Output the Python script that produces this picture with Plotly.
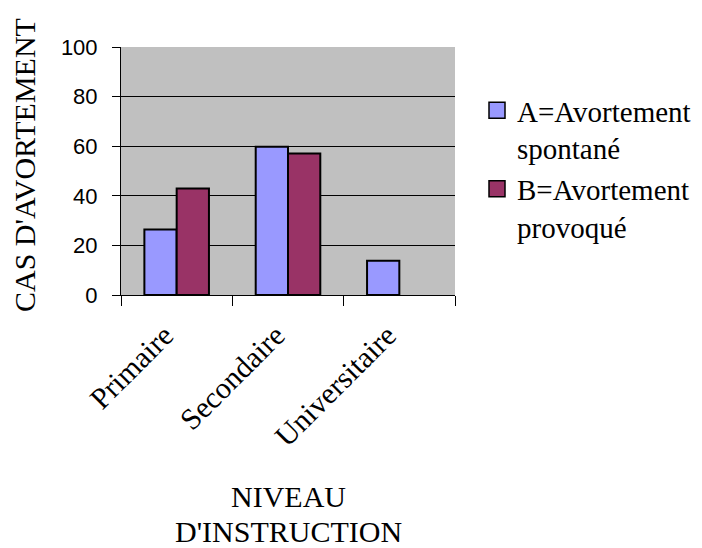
import plotly.graph_objects as go

categories = ["Primaire", "Secondaire", "Universitaire"]
spontane = [26.4, 59.8, 13.8]
provoque = [42.9, 57.1, None]
series_names = ["A=Avortement<br>spontané", "B=Avortement<br>provoqué"]
y_ticks = [0, 20, 40, 60, 80, 100]

col_a = "#9999FF"
col_b = "#993366"
serif = "Liberation Serif"
sans = "Liberation Sans"

# page body adds an 8px offset; plot area target: x 121-455, y 47-295
OFF = 8
PW, PH = 334, 248
FW, FH = 702 - OFF, 548 - OFF

fig = go.Figure()
fig.add_trace(go.Bar(x=categories, y=spontane, name=series_names[0], showlegend=False,
                     legendgroup="a",
                     marker=dict(color=col_a, line=dict(color="black", width=2))))
fig.add_trace(go.Bar(x=categories, y=provoque, name=series_names[1], showlegend=False,
                     legendgroup="b",
                     marker=dict(color=col_b, line=dict(color="black", width=2))))
# legend entries (larger square swatches)
for nm, c, g in [(series_names[0], col_a, "a"), (series_names[1], col_b, "b")]:
    fig.add_trace(go.Scatter(x=[None], y=[None], mode="markers", name=nm, legendgroup=g,
                             marker=dict(symbol="square", size=16, color=c,
                                         line=dict(color="black", width=1.5))))

fig.update_layout(
    width=FW, height=FH,
    margin=dict(l=121 - OFF, r=247, t=47 - OFF, b=253),
    paper_bgcolor="white", plot_bgcolor="#C0C0C0",
    font=dict(family=serif, size=29, color="black"),
    barmode="group", bargap=0.42, bargroupgap=0,
    showlegend=True,
    legend=dict(xref="container", yref="container",
                x=(477 - OFF) / FW, xanchor="left", y=1 - (85 - OFF) / FH, yanchor="top",
                valign="top",
                font=dict(family=serif, size=29, color="black"),
                bgcolor="rgba(0,0,0,0)", itemwidth=30, tracegroupgap=0),
    xaxis=dict(type="category", tickson="boundaries", ticks="outside", ticklen=10,
               tickcolor="black", tickwidth=1, showline=True, linecolor="black",
               linewidth=1, tickangle=-45, ticklabelstandoff=10, ticklabelshift=-12,
               tickfont=dict(family=serif, size=30, color="black"),
               showgrid=False, zeroline=False),
    yaxis=dict(range=[0, 100], tickvals=y_ticks, ticks="outside", ticklen=8,
               tickcolor="black", tickwidth=1, showline=True, linecolor="black",
               linewidth=1, showgrid=True, gridcolor="black", gridwidth=1,
               zeroline=False, ticklabelstandoff=10,
               tickfont=dict(family=sans, size=22, color="black")),
    annotations=[
        dict(text="CAS D'AVORTEMENT", xref="paper", yref="paper",
             x=(24 - 121) / PW, y=(295 - 165) / PH, xanchor="center", yanchor="middle",
             textangle=-90, showarrow=False,
             font=dict(family=serif, size=30, color="black")),
        dict(text="NIVEAU", xref="paper", yref="paper",
             x=0.5, y=-(496 - 295) / PH, xanchor="center", yanchor="middle",
             showarrow=False, font=dict(family=serif, size=30, color="black")),
        dict(text="D'INSTRUCTION", xref="paper", yref="paper",
             x=0.5, y=-(531 - 295) / PH, xanchor="center", yanchor="middle",
             showarrow=False, font=dict(family=serif, size=30, color="black")),
    ],
)

fig.write_html("out.html")
